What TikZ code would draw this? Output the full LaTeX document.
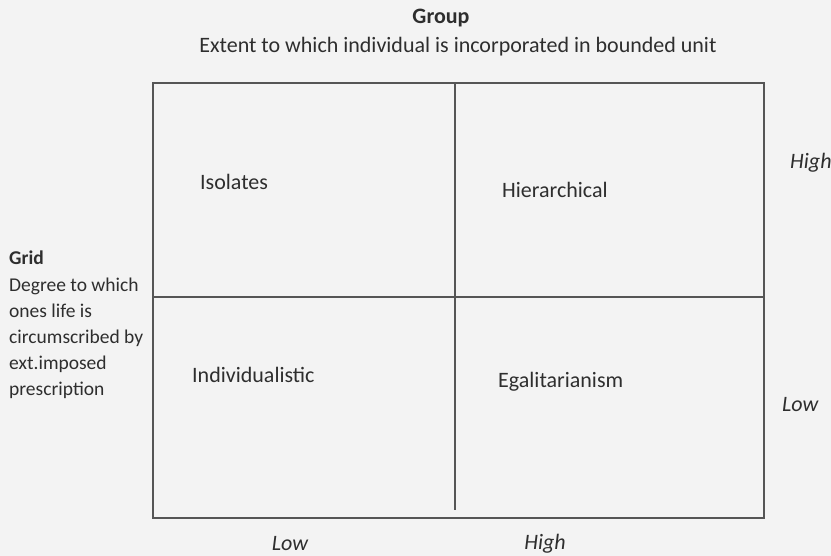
\documentclass[tikz,border=0pt]{standalone}
\usepackage{fontspec}
\setmainfont{Carlito}
\definecolor{bgc}{HTML}{F3F3F3}
\definecolor{txt}{HTML}{2E2E2E}
\definecolor{ln}{HTML}{555555}
\begin{document}
\begin{tikzpicture}[x=1pt,y=-1pt,
  lbl/.style={inner sep=0pt,text=txt,font=\fontsize{22}{26}\selectfont},
  ital/.style={lbl,font=\fontsize{22}{26}\selectfont\itshape},
  small/.style={inner sep=0pt,text=txt,font=\fontsize{19.5}{26}\selectfont,align=left},
  boxline/.style={draw=ln,line width=1.6pt}]
\fill[bgc] (0,0) rectangle (831,556);
\useasboundingbox (0,0) rectangle (831,556);
% box
\coordinate (tl) at (153,83);
\coordinate (br) at (764,518);
\coordinate (vt) at (455,83);
\coordinate (vb) at (455,510);
\coordinate (hl) at (153,297);
\coordinate (hr) at (764,297);
\draw[boxline] (tl) rectangle (br);
\draw[boxline] (vt) -- (vb);
\draw[boxline] (hl) -- (hr);
% titles
\node[lbl,font=\fontsize{22}{26}\selectfont\bfseries] (group) at (441,18) {Group};
\node[lbl] (extent) at (458,47) {Extent to which individual is incorporated in bounded unit};
% quadrant labels
\node[lbl,anchor=west] (iso) at (200,182) {Isolates};
\node[lbl,anchor=west] (hier) at (502,190) {Hierarchical};
\node[lbl,anchor=west] (ind) at (192,375) {Individualistic};
\node[lbl,anchor=west] (ega) at (498,382) {Egalitarianism};
% right labels
\node[ital,anchor=west] (rhigh) at (790,163) {High};
\node[ital,anchor=west] (rlow) at (782,405) {Low};
% bottom labels
\node[ital] (blow) at (290,544) {Low};
\node[ital] (bhigh) at (545,544) {High};
% grid
\node[small,anchor=west,font=\fontsize{19.5}{26}\selectfont\bfseries] (grid) at (9,258) {Grid};
\node[small,anchor=north west] (griddesc) at (9,278) {Degree to which\\ones life is\\circumscribed by\\ext.imposed\\prescription};
\end{tikzpicture}
\end{document}
